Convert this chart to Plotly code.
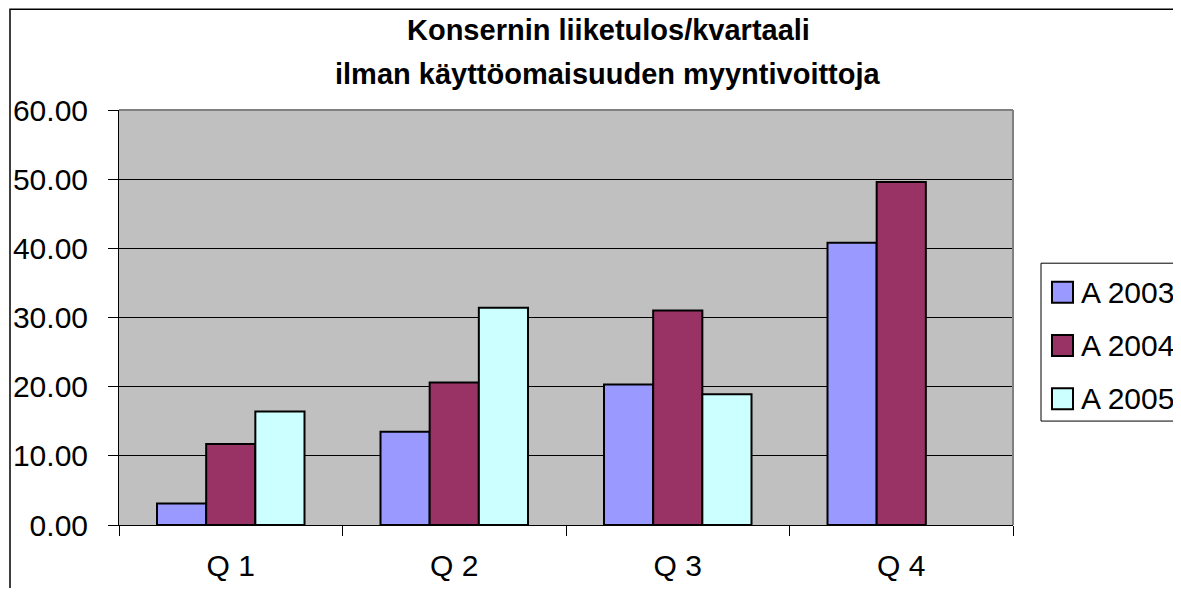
import plotly.graph_objects as go

quarters = ["Q 1", "Q 2", "Q 3", "Q 4"]
series_names = ["A 2003", "A 2004", "A 2005"]
a2003 = [3.1, 13.5, 20.3, 40.8]
a2004 = [11.7, 20.6, 31.0, 49.6]
a2005 = [16.4, 31.4, 18.9, None]
colors = ["#9999FF", "#993366", "#CCFFFF"]
title_lines = ["Konsernin liiketulos/kvartaali", "ilman käyttöomaisuuden myyntivoittoja"]

FONT = "Arial, 'Liberation Sans', sans-serif"
# the page body has an 8px margin, so the figure is kept 16px smaller
# and all positions below are screen positions minus 8
OFF = 8
W, H = 1181 - 2 * OFF, 596 - 2 * OFF
L, R, T, B = 119 - OFF, 1013 - OFF, 109.7 - OFF, 525 - OFF  # plot area


def px_x(x):
    return (x - OFF - L) / (R - L)


def px_y(y):
    return (B - (y - OFF)) / (B - T)


fig = go.Figure()
for name, vals, col in zip(series_names, [a2003, a2004, a2005], colors):
    fig.add_trace(go.Bar(
        x=quarters, y=vals, name=name,
        marker=dict(color=col, line=dict(color="black", width=2)),
    ))

shapes = [
    # plot area top / right edges
    dict(type="line", xref="paper", yref="paper", x0=0, x1=1, y0=1, y1=1, line=dict(color="#808080", width=2)),
    dict(type="line", xref="paper", yref="paper", x0=1, x1=1, y0=0, y1=1, line=dict(color="#808080", width=2)),
    # outer chart border (runs off the right and bottom)
    dict(type="rect", xref="paper", yref="paper", x0=px_x(10), x1=px_x(1300), y0=px_y(700), y1=px_y(OFF + 1),
         line=dict(color="black", width=1.5)),
    # legend box
    dict(type="rect", xref="paper", yref="paper", x0=px_x(1041), x1=px_x(1300), y0=px_y(421), y1=px_y(263),
         line=dict(color="black", width=1), fillcolor="white"),
]
annotations = []
for i, (name, col) in enumerate(zip(series_names, colors)):
    cy = 292 + i * 53.3
    shapes.append(dict(type="rect", xref="paper", yref="paper", x0=px_x(1052), x1=px_x(1073),
                       y0=px_y(cy + 10.5), y1=px_y(cy - 10.5), fillcolor=col, line=dict(color="black", width=2)))
    annotations.append(dict(text=name, xref="paper", yref="paper", x=px_x(1079), y=px_y(cy),
                            xanchor="left", yanchor="middle", showarrow=False,
                            font=dict(family=FONT, size=30, color="black")))

for i, line in enumerate(title_lines):
    annotations.append(dict(text=f"<b>{line}</b>", xref="paper", yref="paper", x=px_x(608), y=px_y(30 + i * 44),
                            xanchor="center", yanchor="middle", showarrow=False,
                            font=dict(family=FONT, size=29, color="black")))

fig.update_layout(
    width=W, height=H,
    margin=dict(l=L, r=W - R, t=T, b=H - B, autoexpand=False),
    paper_bgcolor="white",
    plot_bgcolor="#C0C0C0",
    barmode="group",
    bargap=0.34,
    bargroupgap=0,
    showlegend=False,
    font=dict(family=FONT, size=30, color="black"),
    shapes=shapes,
    annotations=annotations,
)
fig.update_yaxes(
    range=[0, 60], dtick=10, tickformat=".2f",
    showgrid=True, gridcolor="black", gridwidth=1,
    showline=True, linecolor="black", linewidth=1,
    ticks="outside", ticklen=10, tickcolor="black", ticklabelstandoff=14,
    zeroline=False,
)
fig.update_xaxes(
    showline=True, linecolor="black", linewidth=1,
    ticks="outside", ticklen=10, tickcolor="black", tickson="boundaries",
    ticklabelstandoff=14, showgrid=False,
)

fig.write_html("out.html")
